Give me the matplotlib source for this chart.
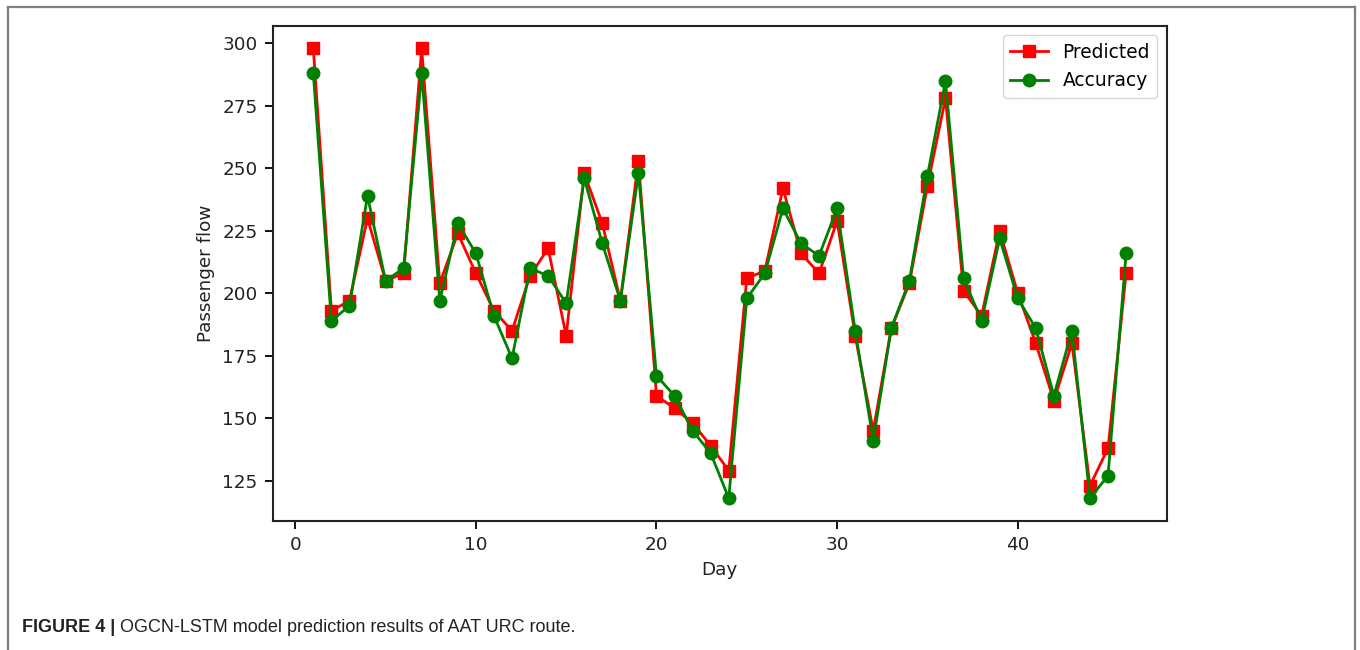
import matplotlib
matplotlib.use("Agg")
import matplotlib.pyplot as plt
from matplotlib.lines import Line2D

days = [1, 2, 3, 4, 5, 6, 7, 8, 9, 10, 11, 12, 13, 14, 15, 16, 17, 18, 19, 20, 21, 22, 23,
        24, 25, 26, 27, 28, 29, 30, 31, 32, 33, 34, 35, 36, 37, 38, 39, 40, 41, 42, 43, 44, 45, 46]
predicted = [298, 193, 197, 230, 205, 208, 298, 204, 224, 208, 193, 185, 207, 218, 183, 248,
             228, 197, 253, 159, 154, 148, 139, 129, 206, 209, 242, 216, 208, 229, 183, 145,
             186, 204, 243, 278, 201, 191, 225, 200, 180, 157, 180, 123, 138, 208]
accuracy = [288, 189, 195, 239, 205, 210, 288, 197, 228, 216, 191, 174, 210, 207, 196, 246,
            220, 197, 248, 167, 159, 145, 136, 118, 198, 208, 234, 220, 215, 234, 185, 141,
            186, 205, 247, 285, 206, 189, 222, 198, 186, 159, 185, 118, 127, 216]
caption_bold = "FIGURE 4 |"
caption_text = " OGCN-LSTM model prediction results of AAT URC route."

fs = 13.2
fig = plt.figure(figsize=(13.6, 6.5), dpi=100)
ax = fig.add_axes([0.2005, 0.199, 0.6574, 0.761])

ax.plot(days, predicted, color="#ff0000", marker="s", markersize=8.5, linewidth=2.0, label="Predicted")
ax.plot(days, accuracy, color="#008000", marker="o", markersize=9, linewidth=2.0, label="Accuracy")

ax.set_xlabel("Day", fontsize=fs, color="#222222", labelpad=5)
ax.set_ylabel("Passenger flow", fontsize=fs, color="#222222", labelpad=5)
ax.tick_params(labelsize=fs, labelcolor="#222222", length=6, width=1.3, pad=5)
for s in ax.spines.values():
    s.set_linewidth(1.5)
    s.set_color("#222222")
ax.legend(loc="upper right", fontsize=13.4, handlelength=2.0)

# figure border (left, top, right)
W, H = 1360, 650
bc = "#7f7f7f"
fig.add_artist(Line2D([7.5 / W, 7.5 / W], [0, 1 - 6.5 / H], transform=fig.transFigure, color=bc, lw=1.6))
fig.add_artist(Line2D([7.5 / W, 1354.5 / W], [1 - 6.5 / H, 1 - 6.5 / H], transform=fig.transFigure, color=bc, lw=1.6))
fig.add_artist(Line2D([1354.5 / W, 1354.5 / W], [0, 1 - 6.5 / H], transform=fig.transFigure, color=bc, lw=1.6))

cap_family = ["Liberation Sans Narrow", "Liberation Sans", "DejaVu Sans"]
yb = 1 - 632 / H
t1 = fig.text(22 / W, yb, caption_bold, fontsize=13, fontweight="bold", family=cap_family,
              color="#222222", va="baseline", ha="left")
fig.canvas.draw()
bb = t1.get_window_extent()
fig.text(bb.x1 / W, yb, caption_text, fontsize=13, family=cap_family,
         color="#222222", va="baseline", ha="left")

fig.savefig("out.png", dpi=100)
